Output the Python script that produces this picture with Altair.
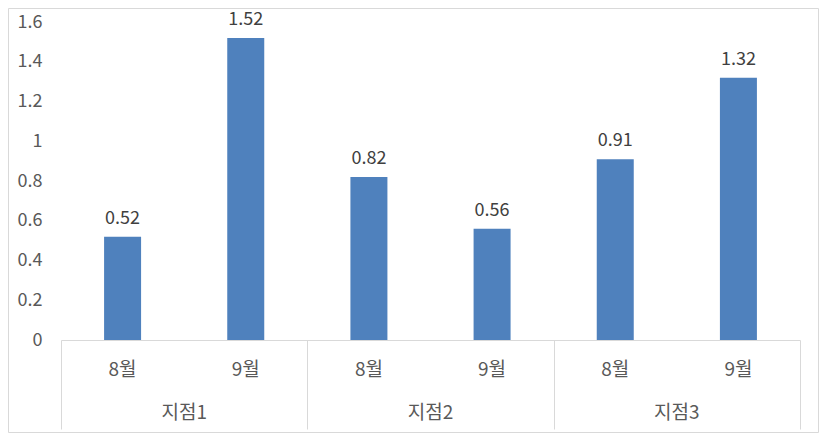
import altair as alt
import pandas as pd

sites = ["지점1", "지점2", "지점3"]
months = ["8월", "9월"]
values = [0.52, 1.52, 0.82, 0.56, 0.91, 1.32]
y_ticks = [0, 0.2, 0.4, 0.6, 0.8, 1.0, 1.2, 1.4, 1.6]
group_edges = [0, 2, 4, 6]

FONT = "Noto Sans CJK KR"
FSN = 18
FSK = 19

rows = []
for s_i, s in enumerate(sites):
    for m_i, m in enumerate(months):
        k = s_i * 2 + m_i
        rows.append({"site": s, "month": m, "value": values[k], "pos": k + 0.5})
bars_df = pd.DataFrame(rows)
groups_df = pd.DataFrame({"site": sites, "center": [2 * i + 1 for i in range(len(sites))]})
frame_df = pd.DataFrame({"f": [0]})

xs = alt.Scale(domain=[0, 6], nice=False, zero=False, padding=0)
ys = alt.Scale(domain=[0, 1.6], nice=False)

x_axis = alt.Axis(values=group_edges, labels=False, title=None, grid=False,
                  domain=True, domainColor="#d9d9d9", domainWidth=1,
                  ticks=True, tickColor="#d9d9d9", tickWidth=1, tickSize=89)
y_axis = alt.Axis(values=y_ticks, format=".1~f", ticks=False, domain=False, grid=False,
                  labelOverlap=False, labelPadding=19, labelFontSize=FSN,
                  labelColor="#595959", labelFont=FONT, title=None)

frame = alt.Chart(frame_df).mark_rect(fill="white", fillOpacity=0, stroke="#d9d9d9", strokeWidth=1).encode(
    x=alt.value(-52.5), x2=alt.value(757.5), y=alt.value(-13.5), y2=alt.value(410.5),
)

bars = alt.Chart(bars_df).mark_bar(size=37, color="#4F81BD").encode(
    x=alt.X("pos:Q", scale=xs, axis=x_axis),
    y=alt.Y("value:Q", scale=ys, axis=y_axis),
)

vals = alt.Chart(bars_df).mark_text(baseline="bottom", dy=-9, fontSize=FSN, font=FONT, color="#404040").encode(
    x=alt.X("pos:Q", scale=xs, axis=x_axis),
    y=alt.Y("value:Q", scale=ys, axis=y_axis),
    text=alt.Text("value:Q", format=".2f"),
)

month_lbl = alt.Chart(bars_df).mark_text(baseline="middle", fontSize=FSK, font=FONT, color="#595959").encode(
    x=alt.X("pos:Q", scale=xs, axis=x_axis),
    y=alt.value(348),
    text="month:N",
)

group_lbl = alt.Chart(groups_df).mark_text(baseline="middle", fontSize=FSK, font=FONT, color="#595959").encode(
    x=alt.X("center:Q", scale=xs, axis=x_axis),
    y=alt.value(391),
    text="site:N",
)

chart = alt.layer(bars, vals, month_lbl, group_lbl, frame).properties(
    width=739, height=318,
    autosize=alt.AutoSizeParams(type="none"),
    padding={"left": 53, "top": 14, "right": 19, "bottom": 93},
    background="white",
).configure_view(stroke=None).configure_axis(labelOverlap=False)

chart.save("out.html", embed_options={"renderer": "svg", "actions": False})
